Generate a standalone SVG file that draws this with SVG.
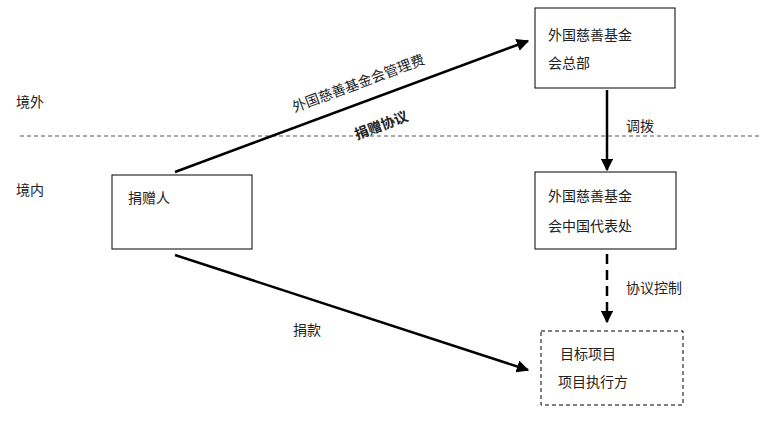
<svg xmlns="http://www.w3.org/2000/svg" width="774" height="423" viewBox="0 0 774 423">
<style>
text{font-family:"Noto Sans CJK SC","Liberation Sans",sans-serif;font-size:14px;fill:#222}
.box{fill:#fff;stroke:#000;stroke-width:1}
.c{stroke:#000;stroke-width:2.5;fill:none}
</style>
<defs><marker id="a" viewBox="0 0 10 10" refX="9" refY="5" markerWidth="5" markerHeight="5" orient="auto" markerUnits="strokeWidth"><path d="M0,0L10,5L0,10z" fill="#000"/></marker></defs>
<rect width="774" height="423" fill="#fff"/>
<line x1="20" y1="136" x2="762" y2="136" stroke="#555" stroke-dasharray="4,3"/>
<text x="16" y="107" font-size="15">境外</text>
<text x="16" y="195" font-size="15">境内</text>
<g id="donor"><rect class="box" x="112" y="175" width="140" height="74"/><text x="128" y="203">捐赠人</text></g>
<g id="hq"><rect class="box" x="535" y="8" width="140" height="80"/><text x="548" y="40">外国慈善基金</text><text x="548" y="68">会总部</text></g>
<g id="cn"><rect class="box" x="535" y="172" width="141" height="77"/><text x="548" y="201">外国慈善基金</text><text x="548" y="231">会中国代表处</text></g>
<g id="proj"><rect x="541" y="331" width="142" height="74" fill="#fff" stroke="#000" stroke-dasharray="4,3"/><text x="560" y="359">目标项目</text><text x="558" y="387">项目执行方</text></g>
<g id="connectors">
<line class="c" x1="175" y1="172" x2="528" y2="41" marker-end="url(#a)"/>
<line class="c" x1="607" y1="90" x2="607" y2="170" marker-end="url(#a)"/>
<line class="c" x1="607" y1="254" x2="607" y2="322" stroke-dasharray="10,6" marker-end="url(#a)"/>
<line class="c" x1="175" y1="255" x2="528" y2="370" marker-end="url(#a)"/>
<text transform="translate(360,88) rotate(-20.4)" text-anchor="middle">外国慈善基金会管理费</text>
<text transform="translate(383,130) rotate(-20.4)" text-anchor="middle" font-weight="bold">捐赠协议</text>
<text x="626" y="131">调拨</text>
<text x="626" y="293">协议控制</text>
<text x="293" y="335">捐款</text>
</g>
</svg>
